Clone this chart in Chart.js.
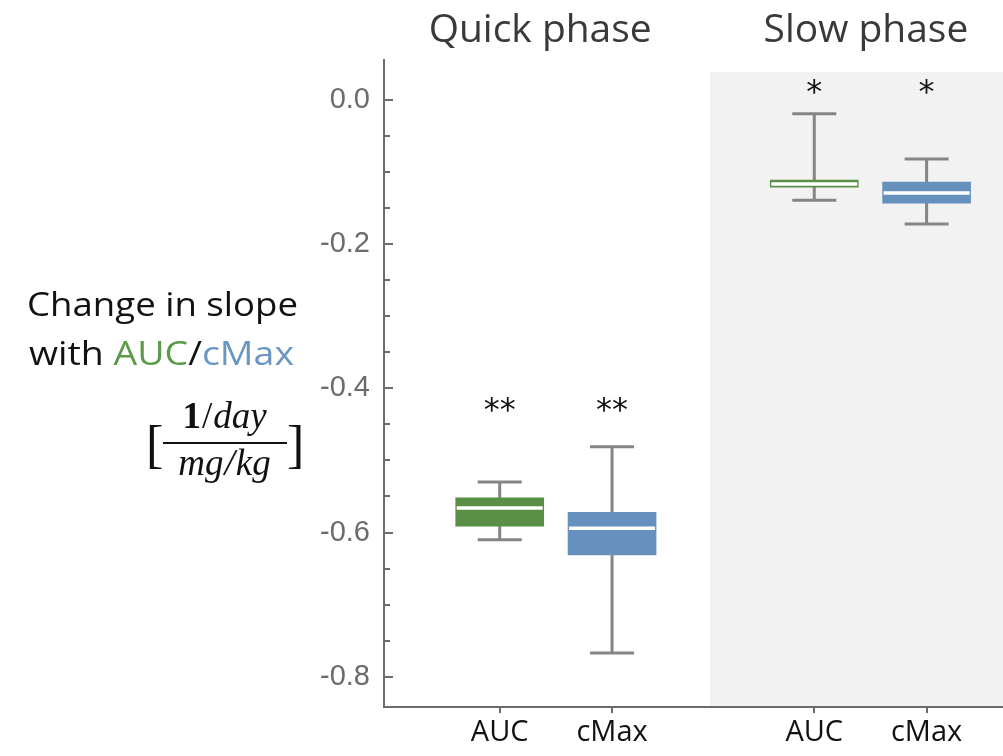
<!DOCTYPE html>
<html><head><meta charset="utf-8">
<script src="https://cdn.jsdelivr.net/npm/chart.js@4/dist/chart.umd.min.js"></script>
<style>html,body{margin:0;padding:0;background:#fff;overflow:hidden}#wrap{width:1003px;height:756px;position:relative}</style>
</head><body><div id="wrap"><canvas id="c" width="1003" height="756"></canvas></div>
<script>
// ---- data ----
const categories = ['AUC', 'cMax', 'AUC', 'cMax'];
const xPositions = [1, 2, 3.8, 4.8];
const whiskerLow  = [-0.610, -0.767, -0.139, -0.172];
const q1          = [-0.591, -0.631, -0.121, -0.143];
const median      = [-0.566, -0.594, -0.1165, -0.129];
const q3          = [-0.552, -0.572, -0.111, -0.114];
const whiskerHigh = [-0.530, -0.481, -0.019, -0.082];
const significance  = ['**', '**', '*', '*'];
const significanceY = [-0.423, -0.423, 0.019, 0.019];
const yTickValues = [-0.8, -0.6, -0.4, -0.2, 0.0];
const yTickLabels = ['-0.8', '-0.6', '-0.4', '-0.2', '0.0'];
const phaseTitles = ['Quick phase', 'Slow phase'];
const phaseTitleX = [1.36, 4.26];

// ---- styles ----
const GREEN = '#5b8f46', BLUE = '#6690bd';
const boxColors = [GREEN, BLUE, GREEN, BLUE];
const WHISKER = '#858585', AXIS = '#6b6b6b';
const SHADE_FROM_X = 2.87, SHADE_TOP_Y = 0.0388;
const X_MIN = -0.03, X_MAX = 5.48, Y_MIN = -0.842, Y_MAX = 0.0555;

function fitFont(ctx, text, weight, family, targetW, base) {
  ctx.font = weight + ' ' + base + 'px ' + family;
  const w = ctx.measureText(text).width;
  return base * targetW / w;
}

// draw coloured text parts right-aligned at xr, compressed to width targetW
function drawParts(ctx, parts, font, xr, yb, targetW) {
  ctx.font = font;
  const tot = parts.reduce((s, p) => s + ctx.measureText(p[0]).width, 0);
  const sx = targetW / tot;
  ctx.save();
  ctx.translate(xr - targetW, yb);
  ctx.scale(sx, 1);
  let cx = 0;
  parts.forEach(p => { ctx.fillStyle = p[1]; ctx.fillText(p[0], cx, 0); cx += ctx.measureText(p[0]).width; });
  ctx.restore();
}

const deco = {
  id: 'deco',
  beforeDraw(chart) {
    const {ctx, scales: {x, y}} = chart;
    ctx.save();
    ctx.fillStyle = '#f2f2f2';
    const x0 = x.getPixelForValue(SHADE_FROM_X), x1 = x.getPixelForValue(X_MAX);
    const y0 = y.getPixelForValue(SHADE_TOP_Y), y1 = y.getPixelForValue(Y_MIN);
    ctx.fillRect(x0, y0, x1 - x0, y1 - y0);
    ctx.restore();
  },
  beforeDatasetsDraw(chart) {
    const {ctx, scales: {x, y}} = chart;
    ctx.save();
    ctx.strokeStyle = WHISKER;
    ctx.lineWidth = 3;
    xPositions.forEach((xv, i) => {
      const px = x.getPixelForValue(xv);
      const hi = y.getPixelForValue(whiskerHigh[i]), lo = y.getPixelForValue(whiskerLow[i]);
      ctx.beginPath();
      ctx.moveTo(px, hi); ctx.lineTo(px, lo);
      ctx.moveTo(px - 22, hi); ctx.lineTo(px + 22, hi);
      ctx.moveTo(px - 22, lo); ctx.lineTo(px + 22, lo);
      ctx.stroke();
    });
    ctx.restore();
  },
  afterDatasetsDraw(chart) {
    const {ctx, scales: {x, y}} = chart;
    ctx.save();
    ctx.strokeStyle = '#ffffff';
    ctx.lineWidth = 3.5;
    xPositions.forEach((xv, i) => {
      const px = x.getPixelForValue(xv);
      const my = y.getPixelForValue(median[i]);
      ctx.beginPath();
      ctx.moveTo(px - 43, my); ctx.lineTo(px + 43, my);
      ctx.stroke();
    });
    ctx.fillStyle = '#111';
    ctx.font = '32px "DejaVu Sans"';
    ctx.textAlign = 'center';
    ctx.textBaseline = 'middle';
    xPositions.forEach((xv, i) => {
      ctx.fillText(significance[i], x.getPixelForValue(xv), y.getPixelForValue(significanceY[i]) + 7);
    });
    ctx.restore();
  },
  afterDraw(chart) {
    const {ctx, scales: {x, y}} = chart;
    ctx.save();
    ctx.strokeStyle = AXIS;
    ctx.lineWidth = 2;
    const ax = x.left;
    for (let k = 0; k <= 16; k++) {
      const v = -0.8 + k * 0.05;
      const py = Math.round(y.getPixelForValue(v));
      const major = k % 4 === 0;
      ctx.beginPath();
      ctx.moveTo(ax, py); ctx.lineTo(ax + (major ? 9 : 6), py);
      ctx.stroke();
    }
    // phase titles
    ctx.fillStyle = '#3b3838';
    ctx.textAlign = 'center';
    ctx.textBaseline = 'alphabetic';
    const tf = fitFont(ctx, phaseTitles[0], '400', '"Open Sans"', 223, 36);
    ctx.font = '400 ' + tf + 'px "Open Sans"';
    phaseTitles.forEach((t, i) => ctx.fillText(t, x.getPixelForValue(phaseTitleX[i]), 42));
    // y-axis label
    ctx.textAlign = 'left';
    const LF = '400 33px "Open Sans"';
    drawParts(ctx, [['Change in slope', '#111']], LF, 298, 316, 271);
    drawParts(ctx, [['with ', '#111'], ['AUC', '#5a9a48'], ['/', '#111'], ['cMax', '#6b96c2']], LF, 294, 365, 265);
    // math unit label
    ctx.fillStyle = '#111';
    const fx = 225, MF = 'px "Liberation Serif"', msz = 37;
    const num = [['1', 'bold '], ['/', ''], ['day', 'italic ']];
    const den = [['mg', 'italic '], ['/', 'italic '], ['kg', 'italic ']];
    const drawRow = (row, yb) => {
      let w = 0;
      row.forEach(d => { ctx.font = d[1] + msz + MF; w += ctx.measureText(d[0]).width + 1; });
      let px = fx - w / 2;
      row.forEach(d => { ctx.font = d[1] + msz + MF; ctx.fillText(d[0], px, yb); px += ctx.measureText(d[0]).width + 1; });
    };
    drawRow(num, 428);
    drawRow(den, 475);
    ctx.fillRect(163, 442, 124, 2);
    ctx.font = '52px "Liberation Serif"';
    ctx.fillText('[', 146, 462);
    ctx.fillText(']', 287, 462);
    ctx.restore();
  }
};

const ctxEl = document.getElementById('c');
new Chart(ctxEl, {
  type: 'bar',
  data: {
    datasets: [{
      data: xPositions.map((xv, i) => ({x: xv, y: [q1[i], q3[i]]})),
      backgroundColor: boxColors,
      borderWidth: 0,
      barThickness: 88,
      grouped: false
    }]
  },
  options: {
    responsive: false,
    animation: false,
    devicePixelRatio: 1,
    layout: {padding: {left: 0, right: 0, top: 60, bottom: 0}},
    plugins: {legend: {display: false}, tooltip: {enabled: false}},
    scales: {
      x: {
        type: 'linear', min: X_MIN, max: X_MAX, offset: false,
        afterBuildTicks: s => { s.ticks = xPositions.map(v => ({value: v})); },
        afterFit: s => { s.height = 49; },
        ticks: {
          callback: (v, i) => categories[i],
          font: {family: '"Open Sans"', size: 29},
          color: '#111',
          padding: 2,
          autoSkip: false, maxRotation: 0
        },
        grid: {display: true, offset: false, drawOnChartArea: false, drawTicks: true, tickLength: 6, color: AXIS, lineWidth: 2},
        border: {display: true, color: AXIS, width: 2}
      },
      y: {
        type: 'linear', min: Y_MIN, max: Y_MAX,
        afterBuildTicks: s => { s.ticks = yTickValues.map(v => ({value: v})); },
        afterFit: s => { s.width = 384; },
        ticks: {
          callback: (v, i) => yTickLabels[i],
          font: {family: '"Liberation Sans"', size: 29},
          color: '#6b6b6b',
          padding: 14,
          autoSkip: false
        },
        grid: {display: false, drawTicks: false},
        border: {display: true, color: AXIS, width: 2}
      }
    }
  },
  plugins: [deco]
});
</script>
</body></html>
